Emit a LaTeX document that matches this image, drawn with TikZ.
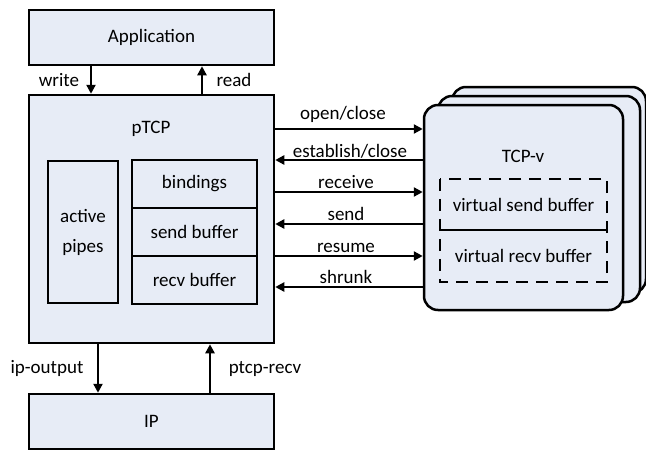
\documentclass[tikz,border=0pt]{standalone}
\usepackage{fontspec}
\setmainfont{Carlito}
\usetikzlibrary{arrows.meta}
\definecolor{boxfill}{RGB}{231,236,246}
\begin{document}
\begin{tikzpicture}[x=1pt,y=-1pt,
  blk/.style={draw, line width=2.5pt, fill=boxfill, inner sep=0pt,
              font=\fontsize{19}{22}\selectfont},
  rblk/.style={blk, rounded corners=14pt},
  lbl/.style={font=\fontsize{19}{22}\selectfont, inner sep=0pt},
  arr/.style={line width=2.5pt, -{Triangle[length=9pt,width=9pt]}},
]
\useasboundingbox (0,0) rectangle (646,450);

% application, pTCP and IP layers
\node[blk, minimum width=245pt, minimum height=55pt] (app) at (151.5,37.5) {Application};
\node[blk, minimum width=245pt, minimum height=248pt] (ptcp) at (151.5,219) {};
\node[lbl] (ptcplbl) at (151,129) {pTCP};
\node[blk, minimum width=245pt, minimum height=55pt] (ip) at (151.5,421.5) {IP};

% pTCP internals
\node[blk, minimum width=70pt, minimum height=142pt, align=center,
      font=\fontsize{19}{30}\selectfont] (pipes) at (83,232) {active\\pipes};
\node[blk, minimum width=125pt, minimum height=48pt] (bind) at (194.5,184) {bindings};
\node[blk, minimum width=125pt, minimum height=48pt] (sbuf) at (194.5,232) {send buffer};
\node[blk, minimum width=125pt, minimum height=48pt] (rbuf) at (194.5,280) {recv buffer};

% stacked TCP-v instances
\node[rblk, minimum width=194pt, minimum height=206pt] (tcpv3) at (549,190) {};
\node[rblk, minimum width=202pt, minimum height=206pt] (tcpv2) at (539,199) {};
\node[rblk, minimum width=199pt, minimum height=205pt] (tcpv) at (523.5,207.5) {};
\node[lbl] (tcpvlbl) at (523,156) {TCP-v};

% virtual buffers
\node[minimum width=167pt, minimum height=51pt, inner sep=0pt, lbl] (vsend) at (523.5,204.5) {virtual send buffer};
\node[minimum width=167pt, minimum height=52pt, inner sep=0pt, lbl] (vrecv) at (523.5,256) {virtual recv buffer};
\draw[line width=2.5pt, dash pattern=on 12pt off 8pt] (vsend.north west) rectangle (vrecv.south east);
\draw[line width=2.5pt] (vsend.south west) -- (vsend.south east);

% application <-> pTCP
\draw[arr] ([xshift=-60.5pt]app.south) -- ([xshift=-60.5pt]ptcp.north);
\draw[arr] ([xshift=50.5pt]ptcp.north) -- ([xshift=50.5pt]app.south);
\node[lbl, anchor=base] (wlbl) at (59,86) {write};
\node[lbl, anchor=base] (rlbl) at (234,86) {read};

% pTCP <-> IP
\draw[arr] ([xshift=-53.5pt]ptcp.south) -- ([xshift=-53.5pt]ip.north);
\draw[arr] ([xshift=58.5pt]ip.north) -- ([xshift=58.5pt]ptcp.south);
\node[lbl, anchor=base] (olbl) at (47,373) {ip-output};
\node[lbl, anchor=base] (plbl) at (265,373) {ptcp-recv};

% pTCP <-> TCP-v
\draw[arr] (ptcp.east |- 0,129) -- (tcpv.west |- 0,129);
\draw[arr] (tcpv.west |- 0,160) -- (ptcp.east |- 0,160);
\draw[arr] (ptcp.east |- 0,192) -- (tcpv.west |- 0,192);
\draw[arr] (tcpv.west |- 0,224) -- (ptcp.east |- 0,224);
\draw[arr] (ptcp.east |- 0,256) -- (tcpv.west |- 0,256);
\draw[arr] (tcpv.west |- 0,287) -- (ptcp.east |- 0,287);
\node[lbl, anchor=base] (l1) at (343,119) {open/close};
\node[lbl, anchor=base] (l2) at (350,157) {establish/close};
\node[lbl, anchor=base] (l3) at (346,188) {receive};
\node[lbl, anchor=base] (l4) at (346,220) {send};
\node[lbl, anchor=base] (l5) at (346,252) {resume};
\node[lbl, anchor=base] (l6) at (346,283) {shrunk};
\end{tikzpicture}
\end{document}
